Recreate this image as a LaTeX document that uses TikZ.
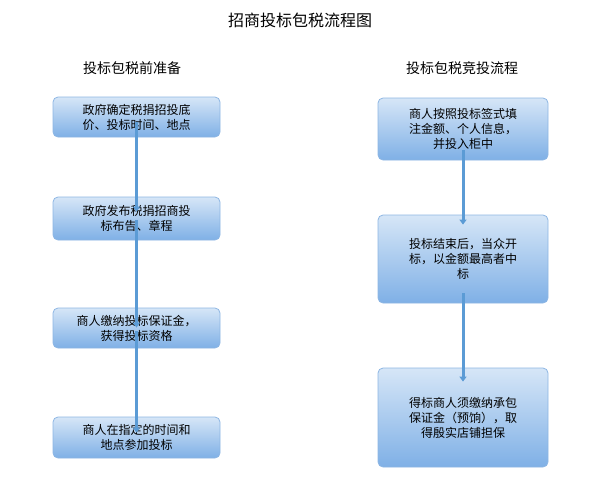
\documentclass[tikz,border=0pt]{standalone}
\usepackage{fontspec}
\newfontfamily\cjk{Noto Sans CJK SC}
\usetikzlibrary{arrows.meta}
\definecolor{boxtop}{HTML}{D6E6F7}
\definecolor{boxbot}{HTML}{7FB0E6}
\definecolor{boxline}{HTML}{8DB6E3}
\definecolor{arr}{HTML}{5B9BD5}
\tikzset{
  stepbox/.style={draw=boxline, line width=0.8pt, rounded corners=5pt, top color=boxtop, bottom color=boxbot, align=center, font=\cjk\fontsize{12}{15}\selectfont, inner sep=0pt},
  flow/.style={draw=arr, line width=3pt, -{Triangle[width=7pt,length=5pt]}},
  head/.style={font=\cjk\fontsize{14}{16}\selectfont}
}
\begin{document}
\begin{tikzpicture}[x=1pt,y=-1pt]
\useasboundingbox (0,0) rectangle (608,490);
\node[font=\cjk\fontsize{16}{18}\selectfont] (t) at (300,20) {招商投标包税流程图};
\node[head] (hl) at (132,68) {投标包税前准备};
\node[head] (hr) at (462,68) {投标包税竞投流程};
\node[stepbox, minimum width=167pt, minimum height=40pt] (l1) at (136.5,117) {政府确定税捐招投底\\价、投标时间、地点};
\node[stepbox, minimum width=167pt, minimum height=43pt] (l2) at (136.5,218.5) {政府发布税捐招商投\\标布告、章程};
\node[stepbox, minimum width=167pt, minimum height=40pt] (l3) at (136.5,328) {商人缴纳投标保证金，\\获得投标资格};
\node[stepbox, minimum width=167pt, minimum height=41pt] (l4) at (136.5,437.5) {商人在指定的时间和\\地点参加投标};
\node[stepbox, minimum width=170pt, minimum height=62pt] (r1) at (463,129) {商人按照投标签式填\\注金额、个人信息，\\并投入柜中};
\node[stepbox, minimum width=170pt, minimum height=88pt] (r2) at (463,259) {投标结束后，当众开\\标，以金额最高者中\\标};
\node[stepbox, minimum width=170pt, minimum height=99pt] (r3) at (463,417.5) {得标商人须缴纳承包\\保证金（预饷），取\\得殷实店铺担保};
\draw[flow] ([yshift=15pt]l1.south) -- ([yshift=-15pt]l2.north);
\draw[flow] ([yshift=20pt]l2.south) -- ([yshift=-20pt]l3.north);
\draw[flow] ([yshift=17pt]l3.south) -- ([yshift=-16pt]l4.north);
\draw[flow] ([yshift=10pt]r1.south) -- ([yshift=-10pt]r2.north);
\draw[flow] ([yshift=10pt]r2.south) -- ([yshift=-14pt]r3.north);
\end{tikzpicture}
\end{document}
